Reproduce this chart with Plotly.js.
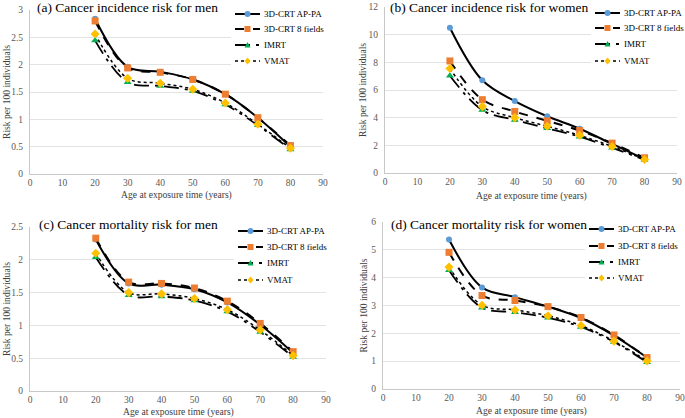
<!DOCTYPE html>
<html>
<head>
<meta charset="utf-8">
<script src="https://cdn.plot.ly/plotly-3.0.1.min.js"></script>
<style>
  html, body { margin: 0; padding: 0; background: #fff; }
  #chart { width: 685px; height: 418px; }
</style>
</head>
<body>
<div id="chart"></div>
<script>
// Age at exposure (years)
const ages = [20, 30, 40, 50, 60, 70, 80];
const seriesNames = ['3D-CRT AP-PA', '3D-CRT 8 fields', 'IMRT', 'VMAT'];

// (a) Cancer incidence risk for men
const incMenApPa   = [2.84, 1.96, 1.87, 1.73, 1.46, 1.03, 0.50];
const incMen8f     = [2.80, 1.94, 1.86, 1.73, 1.46, 1.03, 0.52];
const incMenImrt   = [2.44, 1.68, 1.61, 1.52, 1.27, 0.89, 0.45];
const incMenVmat   = [2.56, 1.75, 1.66, 1.55, 1.30, 0.91, 0.47];

// (b) Cancer incidence risk for women
const incWomenApPa = [10.5, 6.7, 5.2, 4.1, 3.2, 2.1, 1.0];
const incWomen8f   = [8.1, 5.3, 4.45, 3.77, 3.07, 2.16, 1.1];
const incWomenImrt = [7.03, 4.55, 3.83, 3.23, 2.62, 1.82, 0.95];
const incWomenVmat = [7.55, 4.8, 4.0, 3.38, 2.72, 1.92, 0.98];

// (c) Cancer mortality risk for men
const morMenApPa   = [2.31, 1.64, 1.62, 1.55, 1.35, 1.01, 0.58];
const morMen8f     = [2.33, 1.66, 1.64, 1.57, 1.37, 1.03, 0.60];
const morMenImrt   = [2.04, 1.46, 1.44, 1.38, 1.21, 0.90, 0.52];
const morMenVmat   = [2.10, 1.50, 1.48, 1.41, 1.24, 0.93, 0.54];

// (d) Cancer mortality risk for women
const morWomenApPa = [5.37, 3.65, 3.30, 2.96, 2.55, 1.92, 1.13];
const morWomen8f   = [4.91, 3.36, 3.18, 2.96, 2.57, 1.94, 1.13];
const morWomenImrt = [4.27, 2.92, 2.76, 2.56, 2.23, 1.69, 0.96];
const morWomenVmat = [4.38, 3.01, 2.84, 2.63, 2.28, 1.72, 1.01];

const panelTitles = [
  '(a) Cancer incidence risk for men',
  '(b) Cancer incidence risk for women',
  '(c) Cancer mortality risk for men',
  '(d) Cancer mortality risk for women'
];
const xTitle = 'Age at exposure time (years)';
const yTitle = 'Risk per 100 individuals';

const W = 685, H = 418;
const font = '"Liberation Serif", "Times New Roman", Times, serif';

// pixel boxes of each plot area [left, right, top, bottom]
const boxes = [
  [30, 323, 10, 174],
  [385, 677, 7, 173],
  [30, 326, 227, 391],
  [383, 680, 222, 389]
];
const yRanges = [[0, 3], [0, 12], [0, 2.5], [0, 6]];
const yTicks = [0.5, 2, 0.5, 1];

// text placement in pixels
const titlePos = [[36, 8], [389, 8], [38, 224], [390, 224]];
const xTitleY = [195, 196, 412, 411];
const yTitleX = [6, 362, 6, 363];
const legendX0 = [235, 595, 238, 589];
const legendRows = [[14, 29, 45, 61], [13, 28, 44, 61], [231, 247, 263, 280], [229, 246, 262, 278]];

const styles = [
  { dash: 'solid', width: 2, color: '#5B9BD5', symbol: 'circle' },
  { dash: 'dash', width: 2, color: '#ED7D31', symbol: 'square' },
  { dash: 'longdashdot', width: 1.8, color: '#00B050', symbol: 'triangle-up' },
  { dash: 'dot', width: 1.5, color: '#FFC000', symbol: 'diamond' }
];

const panels = [
  [incMenApPa, incMen8f, incMenImrt, incMenVmat],
  [incWomenApPa, incWomen8f, incWomenImrt, incWomenVmat],
  [morMenApPa, morMen8f, morMenImrt, morMenVmat],
  [morWomenApPa, morWomen8f, morWomenImrt, morWomenVmat]
];

function px(x) { return x / W; }
function py(y) { return 1 - y / H; }

// small legend marker as a paper shape
function legendMarker(cx, cy, st) {
  const r = 3;
  const base = { xref: 'paper', yref: 'paper', layer: 'above', fillcolor: st.color, line: { width: 0 } };
  if (st.symbol === 'circle') {
    return Object.assign(base, { type: 'circle', x0: px(cx - r), x1: px(cx + r), y0: py(cy + r), y1: py(cy - r) });
  }
  if (st.symbol === 'square') {
    return Object.assign(base, { type: 'rect', x0: px(cx - r), x1: px(cx + r), y0: py(cy + r), y1: py(cy - r) });
  }
  let pts;
  if (st.symbol === 'triangle-up') {
    pts = [[cx, cy - r], [cx + r, cy + r * 0.8], [cx - r, cy + r * 0.8]];
  } else {
    pts = [[cx, cy - r - 0.5], [cx + r, cy], [cx, cy + r + 0.5], [cx - r, cy]];
  }
  const path = pts.map(function (q, i) { return (i ? 'L' : 'M') + px(q[0]) + ',' + py(q[1]); }).join(' ') + ' Z';
  return Object.assign(base, { type: 'path', path: path });
}

function text(str, x, y, size, opts) {
  return Object.assign({
    text: str,
    xref: 'paper', yref: 'paper',
    x: px(x), y: py(y),
    xanchor: 'center', yanchor: 'middle',
    showarrow: false,
    font: { family: font, size: size, color: '#000' }
  }, opts || {});
}

const traces = [];
const layout = {
  width: W,
  height: H,
  margin: { l: 0, r: 0, t: 0, b: 0 },
  paper_bgcolor: '#fff',
  plot_bgcolor: '#fff',
  font: { family: font, size: 10, color: '#000' },
  showlegend: false,
  annotations: [],
  shapes: []
};

panels.forEach(function (series, p) {
  const n = p === 0 ? '' : String(p + 1);
  const b = boxes[p];

  series.forEach(function (vals, s) {
    const st = styles[s];
    traces.push({
      x: ages,
      y: vals,
      xaxis: 'x' + n,
      yaxis: 'y' + n,
      type: 'scatter',
      mode: 'lines+markers',
      name: seriesNames[s],
      cliponaxis: false,
      line: { color: '#000', width: st.width, dash: st.dash, shape: 'spline', smoothing: 1 },
      marker: { color: st.color, symbol: st.symbol, size: s === 0 ? 6 : 7 }
    });
  });

  layout['xaxis' + n] = {
    domain: [b[0] / W, b[1] / W],
    anchor: 'y' + n,
    range: [0, 90],
    dtick: 10,
    tick0: 0,
    showgrid: false,
    zeroline: false,
    showline: true,
    linecolor: '#c8c8c8',
    linewidth: 1,
    ticks: '',
    ticklabelstandoff: 0,
    tickfont: { family: font, size: 9.5, color: '#595959' }
  };
  layout['yaxis' + n] = {
    domain: [1 - b[3] / H, 1 - b[2] / H],
    anchor: 'x' + n,
    range: yRanges[p],
    dtick: yTicks[p],
    tick0: 0,
    showgrid: true,
    gridcolor: '#e3e3e3',
    zeroline: false,
    showline: true,
    linecolor: '#c8c8c8',
    ticks: '',
    ticklabelstandoff: 4,
    tickfont: { family: font, size: 9.5, color: '#595959' }
  };

  // axis titles
  layout.annotations.push(text(xTitle, (b[0] + b[1]) / 2, xTitleY[p], 9.6, { font: { family: font, size: 9.6, color: '#404040' } }));
  layout.annotations.push(text(yTitle, yTitleX[p], (b[2] + b[3]) / 2, 9.6, { textangle: -90, font: { family: font, size: 9.6, color: '#404040' } }));

  // panel title, white box over the top gridline
  layout.annotations.push(text(panelTitles[p], titlePos[p][0], titlePos[p][1], 13.5,
    { xanchor: 'left', bgcolor: '#fff', borderpad: 0 }));

  // legend box
  const x0 = legendX0[p];
  const rows = legendRows[p];
  layout.shapes.push({
    type: 'rect', xref: 'paper', yref: 'paper', layer: 'above',
    x0: px(x0 - 4), x1: px(Math.min(b[1] + 3, W)),
    y0: py(rows[3] + 8), y1: py(rows[0] - 9),
    fillcolor: '#fff', line: { width: 0 }
  });
  seriesNames.forEach(function (name, s) {
    const st = styles[s];
    const y = rows[s];
    layout.shapes.push({
      type: 'line', xref: 'paper', yref: 'paper', layer: 'above',
      x0: px(x0), x1: px(x0 + 25), y0: py(y), y1: py(y),
      line: { color: '#000', width: st.width, dash: st.dash }
    });
    layout.shapes.push(legendMarker(x0 + 12.5, y, st));
    layout.annotations.push(text(name, x0 + 27, y, 9, { xanchor: 'left' }));
  });
});

Plotly.newPlot('chart', traces, layout, { displayModeBar: false, staticPlot: true });
</script>
</body>
</html>
